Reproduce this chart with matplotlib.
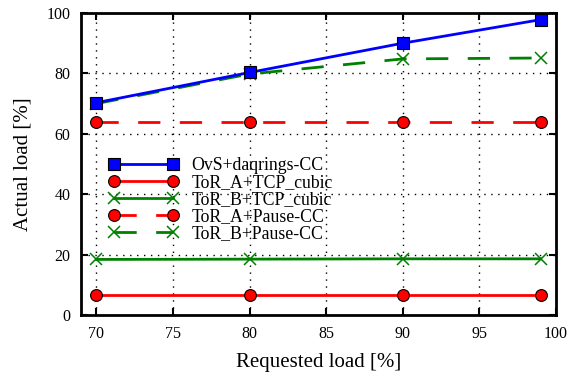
import matplotlib
matplotlib.use("Agg")
import matplotlib.pyplot as plt

x = [70, 80, 90, 99]
ovs = [70.3, 80.3, 90.0, 97.8]
tor_a_tcp = [6.5, 6.5, 6.5, 6.5]
tor_b_tcp = [18.4, 18.5, 18.6, 18.6]
tor_a_pause = [64.0, 64.0, 64.0, 64.0]
tor_b_pause = [70.0, 79.8, 84.8, 85.1]
labels = ["OvS+daqrings-CC", "ToR_A+TCP_cubic", "ToR_B+TCP_cubic",
          "ToR_A+Pause-CC", "ToR_B+Pause-CC"]
xticks = [70, 75, 80, 85, 90, 95, 100]
yticks = [0, 20, 40, 60, 80, 100]

plt.rcParams['font.family'] = ['Liberation Serif', 'DejaVu Serif']
plt.rcParams['mathtext.fontset'] = 'stix'

fig = plt.figure(figsize=(5.71, 3.82), dpi=100)
ax = fig.add_axes([81/571, 1-315/382, (556-81)/571, (315-13)/382])

dash = (0, (8, 7))
ax.plot(x, ovs, color='blue', lw=2, marker='s', ms=8, mfc='blue', mec='black', mew=0.8, label=labels[0], zorder=5)
ax.plot(x, tor_a_tcp, color='red', lw=2, marker='o', ms=8.5, mfc='red', mec='black', mew=0.8, label=labels[1])
ax.plot(x, tor_b_tcp, color='green', lw=2, marker='x', ms=8, mew=1.1, label=labels[2])
ax.plot(x, tor_a_pause, color='red', lw=2, ls=dash, marker='o', ms=8.5, mfc='red', mec='black', mew=0.8, label=labels[3])
ax.plot(x, tor_b_pause, color='green', lw=2, ls=dash, marker='x', ms=8, mew=1.1, label=labels[4])

ax.set_xlim(69, 100)
ax.set_ylim(0, 100)
ax.set_xticks(xticks)
ax.set_yticks(yticks)
ax.grid(True, color='black', ls=(0, (1, 4)), lw=1)
ax.tick_params(direction='in', length=5, width=1.5, top=True, right=True, labelsize=11.5, pad=8)
ax.tick_params(axis='y', pad=7.5)
for s in ax.spines.values():
    s.set_linewidth(2)

ax.set_xlabel("Requested load [%]", fontsize=15, labelpad=8)
ax.set_ylabel("Actual load [%]", fontsize=15, labelpad=10)

leg = ax.legend(loc='upper left', bbox_to_anchor=(0.025, 0.577), frameon=False, numpoints=2,
                handlelength=3.9, fontsize=12.8, labelspacing=0.0, handletextpad=0.75)

fig.savefig("out.png", dpi=100)
